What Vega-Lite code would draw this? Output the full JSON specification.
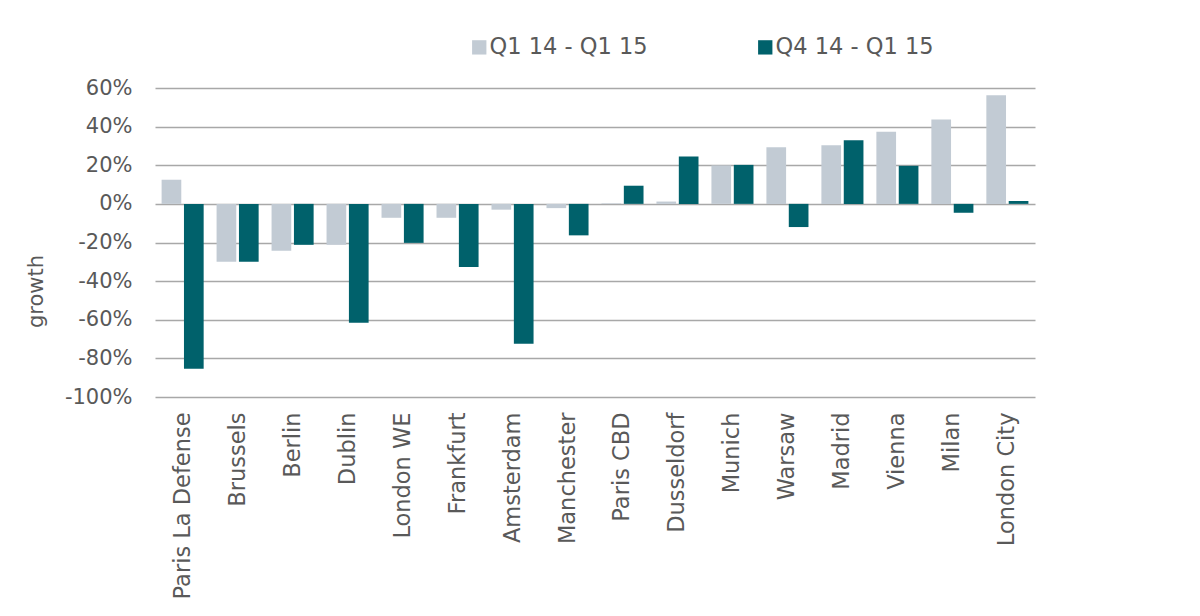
{
  "$schema": "https://vega.github.io/schema/vega-lite/v6.json",
  "width": 880,
  "height": 309,
  "autosize": {"type": "none"},
  "padding": {"left": 155, "top": 88, "right": 165, "bottom": 219},
  "background": "white",
  "config": {"view": {"stroke": null}, "font": "DejaVu Sans"},
  "data": {
    "values": [
      {"city": "Paris La Defense", "series": "Q1 14 - Q1 15", "growth": 12.5},
      {"city": "Paris La Defense", "series": "Q4 14 - Q1 15", "growth": -85.4},
      {"city": "Brussels", "series": "Q1 14 - Q1 15", "growth": -30},
      {"city": "Brussels", "series": "Q4 14 - Q1 15", "growth": -30},
      {"city": "Berlin", "series": "Q1 14 - Q1 15", "growth": -24.3},
      {"city": "Berlin", "series": "Q4 14 - Q1 15", "growth": -21.2},
      {"city": "Dublin", "series": "Q1 14 - Q1 15", "growth": -21.2},
      {"city": "Dublin", "series": "Q4 14 - Q1 15", "growth": -61.5},
      {"city": "London WE", "series": "Q1 14 - Q1 15", "growth": -7.2},
      {"city": "London WE", "series": "Q4 14 - Q1 15", "growth": -20.2},
      {"city": "Frankfurt", "series": "Q1 14 - Q1 15", "growth": -7.2},
      {"city": "Frankfurt", "series": "Q4 14 - Q1 15", "growth": -32.7},
      {"city": "Amsterdam", "series": "Q1 14 - Q1 15", "growth": -3},
      {"city": "Amsterdam", "series": "Q4 14 - Q1 15", "growth": -72.4},
      {"city": "Manchester", "series": "Q1 14 - Q1 15", "growth": -2.2},
      {"city": "Manchester", "series": "Q4 14 - Q1 15", "growth": -16.3},
      {"city": "Paris CBD", "series": "Q1 14 - Q1 15", "growth": 0.3},
      {"city": "Paris CBD", "series": "Q4 14 - Q1 15", "growth": 9.4},
      {"city": "Dusseldorf", "series": "Q1 14 - Q1 15", "growth": 1.2},
      {"city": "Dusseldorf", "series": "Q4 14 - Q1 15", "growth": 24.5},
      {"city": "Munich", "series": "Q1 14 - Q1 15", "growth": 19.9},
      {"city": "Munich", "series": "Q4 14 - Q1 15", "growth": 20.2},
      {"city": "Warsaw", "series": "Q1 14 - Q1 15", "growth": 29.3},
      {"city": "Warsaw", "series": "Q4 14 - Q1 15", "growth": -12},
      {"city": "Madrid", "series": "Q1 14 - Q1 15", "growth": 30.3},
      {"city": "Madrid", "series": "Q4 14 - Q1 15", "growth": 32.9},
      {"city": "Vienna", "series": "Q1 14 - Q1 15", "growth": 37.3},
      {"city": "Vienna", "series": "Q4 14 - Q1 15", "growth": 19.7},
      {"city": "Milan", "series": "Q1 14 - Q1 15", "growth": 43.7},
      {"city": "Milan", "series": "Q4 14 - Q1 15", "growth": -4.6},
      {"city": "London City", "series": "Q1 14 - Q1 15", "growth": 56.2},
      {"city": "London City", "series": "Q4 14 - Q1 15", "growth": 1.5}
    ]
  },
  "mark": {"type": "bar"},
  "encoding": {
    "x": {
      "field": "city",
      "type": "nominal",
      "sort": null,
      "scale": {"paddingInner": 0.235, "paddingOuter": 0.12},
      "axis": {
        "title": null,
        "labelAngle": -90,
        "domain": false,
        "ticks": false,
        "labelPadding": 15,
        "labelFontSize": 22.5,
        "labelColor": "#595959",
        "labelLimit": 400
      }
    },
    "xOffset": {
      "field": "series",
      "type": "nominal",
      "sort": ["Q1 14 - Q1 15", "Q4 14 - Q1 15"],
      "scale": {"paddingInner": 0.12}
    },
    "y": {
      "field": "growth",
      "type": "quantitative",
      "scale": {"domain": [-100, 60], "nice": false},
      "axis": {
        "title": "growth",
        "values": [-100, -80, -60, -40, -20, 0, 20, 40, 60],
        "labelExpr": "datum.value + '%'",
        "grid": true,
        "gridColor": "#a8a8a8",
        "gridWidth": 1.5,
        "domain": false,
        "ticks": false,
        "labelPadding": 23,
        "labelFontSize": 21,
        "labelColor": "#595959",
        "titleFontSize": 21,
        "titleFontWeight": "normal",
        "titleColor": "#595959",
        "titleX": -119,
        "titleY": 203,
        "titleAlign": "center",
        "titleBaseline": "middle",
        "titleAngle": -90
      }
    },
    "color": {
      "field": "series",
      "type": "nominal",
      "sort": ["Q1 14 - Q1 15", "Q4 14 - Q1 15"],
      "scale": {"range": ["#c2cbd4", "#00616b"]},
      "legend": {
        "orient": "none",
        "legendX": 313,
        "legendY": -52,
        "direction": "horizontal",
        "title": null,
        "symbolType": "square",
        "symbolSize": 205,
        "symbolStrokeWidth": 0,
        "labelFontSize": 22.5,
        "labelColor": "#595959",
        "labelOffset": -1,
        "columnPadding": 106
      }
    }
  }
}
